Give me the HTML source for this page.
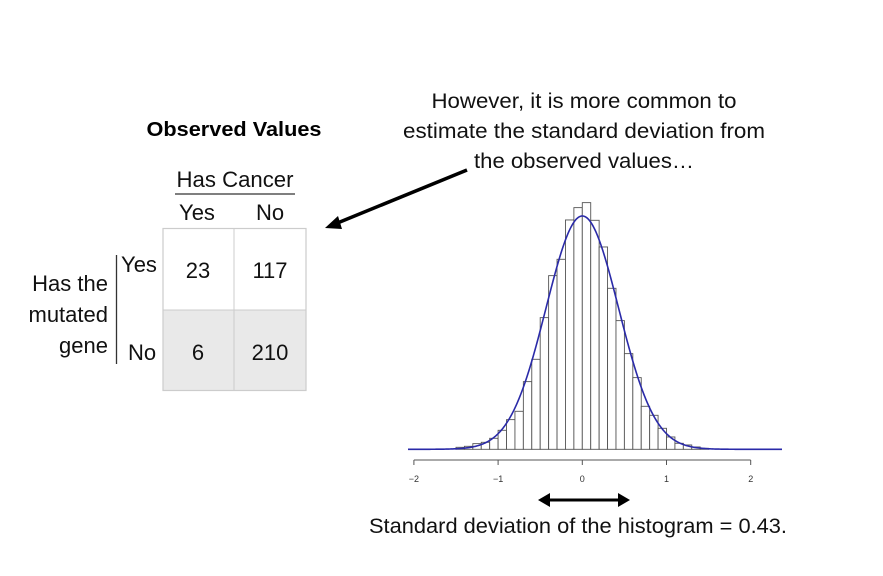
<!DOCTYPE html>
<html><head><meta charset="utf-8"><style>
html,body{margin:0;padding:0;background:#fff;}
svg{display:block;font-family:"Liberation Sans",sans-serif;}
</style></head><body>
<svg id="s" width="883" height="576" viewBox="0 0 883 576">
<text x="234" y="136" font-size="20" font-weight="bold" text-anchor="middle" textLength="175" lengthAdjust="spacingAndGlyphs">Observed Values</text>
<g font-size="22" fill="#111">
<text x="235" y="187" text-anchor="middle" textLength="117" lengthAdjust="spacingAndGlyphs">Has Cancer</text>
<line x1="175" y1="194" x2="295" y2="194" stroke="#333" stroke-width="1.3"/>
<text x="197" y="220" text-anchor="middle">Yes</text>
<text x="270" y="220" text-anchor="middle">No</text>
<rect x="163" y="310" width="143" height="80" fill="#e9e9e9"/>
<rect x="163" y="228.5" width="143" height="162" fill="none" stroke="#ccc" stroke-width="1.2"/>
<line x1="234" y1="228" x2="234" y2="391" stroke="#ccc" stroke-width="1"/>
<line x1="163" y1="310" x2="306" y2="310" stroke="#ccc" stroke-width="1"/>
<text x="198" y="278" text-anchor="middle">23</text>
<text x="270" y="278" text-anchor="middle">117</text>
<text x="198" y="360" text-anchor="middle">6</text>
<text x="270" y="360" text-anchor="middle">210</text>
<line x1="116.5" y1="255" x2="116.5" y2="364" stroke="#333" stroke-width="1.3"/>
<text x="139" y="272" text-anchor="middle">Yes</text>
<text x="142" y="360" text-anchor="middle">No</text>
<text x="108" y="291" text-anchor="end">Has the</text>
<text x="108" y="322" text-anchor="end">mutated</text>
<text x="108" y="353" text-anchor="end">gene</text>
</g>
<g font-size="21" fill="#111" text-anchor="middle">
<text x="584" y="108" textLength="305" lengthAdjust="spacingAndGlyphs">However, it is more common to</text>
<text x="584" y="138" textLength="362" lengthAdjust="spacingAndGlyphs">estimate the standard deviation from</text>
<text x="584" y="168" textLength="220" lengthAdjust="spacingAndGlyphs">the observed values…</text>
</g>
<g>
<line x1="467" y1="170" x2="335" y2="224" stroke="#000" stroke-width="3.5"/>
<polygon points="325,228 338,216 342,229" fill="#000"/>
</g>
<g id="chart"></g>
<g>
<line x1="546" y1="500" x2="622" y2="500" stroke="#000" stroke-width="3"/>
<polygon points="538,500 550,493 550,507" fill="#000"/>
<polygon points="630,500 618,493 618,507" fill="#000"/>
</g>
<text x="578" y="533" font-size="21" text-anchor="middle" textLength="418" lengthAdjust="spacingAndGlyphs" fill="#111">Standard deviation of the histogram = 0.43.</text>
</svg>
<script>
const binStarts = [-1.5,-1.4,-1.3,-1.2,-1.1,-1.0,-0.9,-0.8,-0.7,-0.6,-0.5,-0.4,-0.3,-0.2,-0.1,0.0,0.1,0.2,0.3,0.4,0.5,0.6,0.7,0.8,0.9,1.0,1.1,1.2,1.3,1.4];
const counts = [6,9,17,21,33,57,89,114,203,270,395,521,570,688,725,740,687,607,483,386,287,215,129,102,63,37,18,13,7,3];
const tickValues = [-2,-1,0,1,2];
const tickLabels = ["\u22122","\u22121","0","1","2"];
const binWidth = 0.1;
const curveMean = 0;
const curveSd = 0.43;
const curvePeak = 700;

const NS = "http://www.w3.org/2000/svg";
const g = document.getElementById('chart');
const xs = v => 582.3 + v * 84.2;
const ys = c => 449.3 - c / 3;
function mk(tag, attrs){ const e = document.createElementNS(NS, tag); for (const k in attrs) e.setAttribute(k, attrs[k]); g.appendChild(e); return e; }
binStarts.forEach((b, i) => {
  const x0 = xs(b), x1 = xs(b + binWidth);
  const r = mk('rect', {x: x0, y: ys(counts[i]), width: x1 - x0, height: ys(0) - ys(counts[i]), fill: '#fff', stroke: '#555', 'stroke-width': 0.9});
  
  
});
let d = '';
for (let px = 408; px <= 782; px += 1) {
  const v = (px - 582.3) / 84.2;
  const c = curvePeak * Math.exp(-0.5 * Math.pow((v - curveMean) / curveSd, 2));
  d += (d ? 'L' : 'M') + px + ',' + ys(c).toFixed(2);
}
const p = mk('path', {d: d, fill: 'none', stroke: '#2a2aa8', 'stroke-width': 1.6});


const ax = mk('line', {x1: xs(-2), y1: 460, x2: xs(2), y2: 460, stroke: '#555', 'stroke-width': 1});


tickValues.forEach((t, i) => {
  const tk = mk('line', {x1: xs(t), y1: 460, x2: xs(t), y2: 465, stroke: '#555', 'stroke-width': 1});
  
  
  const tl = mk('text', {x: xs(t), y: 482, 'font-size': 9, 'text-anchor': 'middle', fill: '#333'});
  tl.textContent = tickLabels[i];
  
  
});
</script>
</body></html>
